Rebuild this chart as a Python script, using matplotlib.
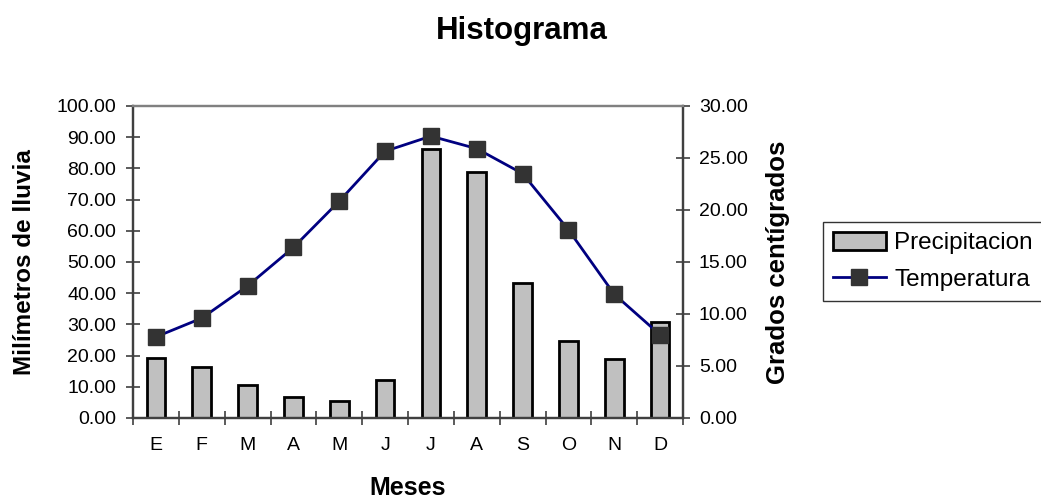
import numpy as np
import matplotlib
matplotlib.use("Agg")
import matplotlib.pyplot as plt
from matplotlib.ticker import FormatStrFormatter

plt.rcParams['font.family'] = ['Liberation Sans', 'DejaVu Sans']

meses = ['E', 'F', 'M', 'A', 'M', 'J', 'J', 'A', 'S', 'O', 'N', 'D']
precipitacion = [19.1, 16.5, 10.7, 6.8, 5.6, 12.1, 86.1, 79.0, 43.2, 24.8, 18.8, 30.8]
temperatura = [7.8, 9.6, 12.7, 16.4, 20.85, 25.65, 27.1, 25.9, 23.5, 18.1, 11.9, 8.0]

W, H = 1041, 499
fig = plt.figure(figsize=(W / 100, H / 100), dpi=100)
ax = fig.add_axes([133 / W, 1 - 418 / H, (683 - 133) / W, (418 - 106) / H])
ax2 = ax.twinx()

x = np.arange(len(meses))
bars = ax.bar(x, precipitacion, width=0.41, color='#c0c0c0', edgecolor='black',
              linewidth=2.0, label='Precipitacion', zorder=2)
line, = ax2.plot(x, temperatura, color='#000080', linewidth=2.0, marker='s',
                 markersize=11, markerfacecolor='#333333', markeredgecolor='#333333',
                 label='Temperatura', zorder=3)

ax.set_xlim(-0.5, 11.5)
ax.set_ylim(0, 100)
ax2.set_ylim(0, 30)
ax.set_yticks(np.arange(0, 101, 10))
ax2.set_yticks(np.arange(0, 31, 5))
ax.yaxis.set_major_formatter(FormatStrFormatter('%.2f'))
ax2.yaxis.set_major_formatter(FormatStrFormatter('%.2f'))

# tick marks between categories, labels at the centres
ax.set_xticks(np.arange(-0.5, 12, 1))
ax.set_xticklabels([])
ax.set_xticks(x, minor=True)
ax.set_xticklabels(meses, minor=True)
ax.tick_params(axis='x', which='major', direction='inout', length=10, width=1.2, color='#404040')
ax.tick_params(axis='x', which='minor', length=0, pad=14, labelsize=14)
ax.tick_params(axis='y', direction='inout', length=10, width=1.2, color='#404040',
               pad=7, labelsize=14)
ax2.tick_params(axis='y', direction='inout', length=10, width=1.2, color='#404040',
                pad=6.5, labelsize=14)

for a in (ax, ax2):
    for s in a.spines.values():
        s.set_color('#404040')
        s.set_linewidth(1.6)
    a.spines['top'].set_color('#808080')

fig.text(522 / W, 1 - 39.3 / H, 'Histograma', ha='center', va='baseline',
         fontsize=22.5, fontweight='bold')
fig.text(408 / W, 1 - 495 / H, 'Meses', ha='center', va='baseline',
         fontsize=18, fontweight='bold')
fig.text(25 / W, 1 - 262 / H, 'Milímetros de lluvia', ha='center', va='center',
         rotation=90, fontsize=17.5, fontweight='bold')
fig.text(778 / W, 1 - 262 / H, 'Grados centígrados', ha='center', va='center',
         rotation=90, fontsize=18.5, fontweight='bold')

leg = fig.legend([bars, line], ['Precipitacion', 'Temperatura'], loc='upper left',
                 bbox_to_anchor=(823 / W, 1 - 222 / H), bbox_transform=fig.transFigure,
                 borderaxespad=0, fontsize=17.5, fancybox=False, frameon=True,
                 handlelength=2.2, handleheight=0.75, handletextpad=0.33,
                 borderpad=0.4, labelspacing=0.6, numpoints=1)
leg.get_frame().set_edgecolor('black')
leg.get_frame().set_linewidth(1.0)

fig.savefig('out.png', dpi=100)
